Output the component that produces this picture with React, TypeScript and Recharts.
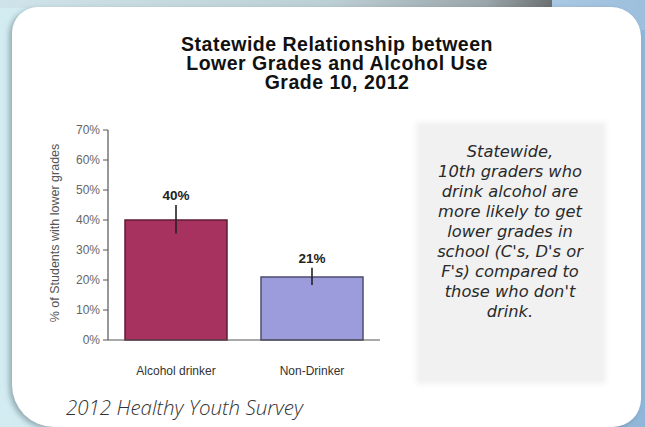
import React from 'react';
import { BarChart, Bar, XAxis, YAxis, ErrorBar, Cell, LabelList } from 'recharts';

const categories = ['Alcohol drinker', 'Non-Drinker'];
const values = [40, 21];
const errLow = [4.5, 2.7];
const errHigh = [5, 3.1];
const valueLabels = ['40%', '21%'];
const yTicks = [0, 10, 20, 30, 40, 50, 60, 70];
const titleLines = ['Statewide Relationship between', 'Lower Grades and Alcohol Use', 'Grade 10, 2012'];
const noteLines = [
  'Statewide,',
  '10th graders who',
  'drink alcohol are',
  'more likely to get',
  'lower grades in',
  "school (C's, D's or",
  "F's) compared to",
  "those who don't",
  'drink.',
];
const sourceText = '2012 Healthy Youth Survey';
const yAxisTitle = '% of Students with lower grades';

const barFills = ['#a8325f', '#9c9cdc'];
const barStrokes = ['#5e1c34', '#4c4c70'];

const data = categories.map((c, i) => ({
  name: c,
  value: values[i],
  err: [errLow[i], errHigh[i]],
}));

const SANS = '"Liberation Sans", Arial, Helvetica, sans-serif';

const renderValueLabel = (props: any) => {
  const { x, y, width, height, index } = props;
  const i = typeof index === 'number' ? index : 0;
  const ppu = Number(height) / values[i];
  const top = Number(y) - errHigh[i] * ppu;
  return (
    <text
      x={Number(x) + Number(width) / 2}
      y={top - 5}
      textAnchor="middle"
      fontFamily={SANS}
      fontWeight="bold"
      fontSize={13.5}
      fill="#222"
    >
      {valueLabels[i]}
    </text>
  );
};

const renderYTitle = (props: any) => {
  const vb = props.viewBox || { x: 0, y: 0, width: 0, height: 0 };
  const cx = vb.x + 1;
  const cy = vb.y + vb.height / 2 - 2;
  return (
    <text
      transform={`translate(${cx},${cy}) rotate(-90)`}
      textAnchor="middle"
      fontFamily={SANS}
      fontSize={12.5}
      fill="#555"
    >
      {yAxisTitle}
    </text>
  );
};

export default function App() {
  return (
    <div
      style={{
        position: 'relative',
        width: 645,
        height: 427,
        overflow: 'hidden',
        background: 'linear-gradient(90deg, #d3ecf2 0%, #c6e0e8 35%, #b0cde2 75%, #8fb6d8 100%)',
      }}
    >
      <style>{'body{margin:0;}'}</style>
      {/* top strip shadow */}
      <div
        style={{
          position: 'absolute',
          left: 0,
          top: 0,
          width: 552,
          height: 8,
          background: 'linear-gradient(90deg, #cfe4ea 0%, #bccfd5 60%, #9aa6aa 88%, #6c7072 100%)',
        }}
      />
      <div
        style={{
          position: 'absolute',
          left: 552,
          top: 0,
          width: 93,
          height: 30,
          background: 'linear-gradient(90deg, #a9c8e3 0%, #9dbfdd 100%)',
        }}
      />
      {/* card */}
      <div
        style={{
          position: 'absolute',
          left: 12,
          top: 7,
          width: 629,
          height: 420,
          background: '#ffffff',
          borderRadius: '26px 30px 28px 42px',
          boxShadow: '-3px 2px 5px rgba(40,60,70,0.35)',
        }}
      />
      {/* title */}
      <div
        style={{
          position: 'absolute',
          left: 117,
          top: 35,
          width: 440,
          textAlign: 'center',
          fontFamily: SANS,
          fontWeight: 'bold',
          fontSize: 19.5,
          letterSpacing: 0.5,
          lineHeight: '18.8px',
          color: '#111',
          whiteSpace: 'pre',
        }}
      >
        {titleLines.join('\n')}
      </div>
      {/* note box */}
      <div
        style={{
          position: 'absolute',
          left: 419,
          top: 125,
          width: 184,
          height: 256,
          background: '#f1f1f1',
          boxShadow: '0 0 6px 3px #f1f1f1',
        }}
      />
      <div
        style={{
          position: 'absolute',
          left: 410,
          top: 142,
          width: 200,
          textAlign: 'center',
          fontFamily: '"DejaVu Sans", Verdana, sans-serif',
          fontStyle: 'italic',
          fontSize: 16.3,
          lineHeight: '20px',
          color: '#2a2a2a',
          whiteSpace: 'pre',
        }}
      >
        {noteLines.join('\n')}
      </div>
      {/* chart */}
      <div style={{ position: 'absolute', left: 40, top: 110 }}>
        <BarChart
          width={360}
          height={290}
          data={data}
          margin={{ top: 20, right: 20, bottom: 20, left: 18 }}
          barCategoryGap="12.5%"
        >
          <XAxis
            dataKey="name"
            height={40}
            tickSize={0}
            tickMargin={26}
            axisLine={{ stroke: '#555', strokeWidth: 1.2 }}
            tick={{ fontFamily: SANS, fontSize: 12, fill: '#333' }}
            interval={0}
          />
          <YAxis
            width={50}
            domain={[0, 70]}
            ticks={yTicks}
            interval={0}
            tickFormatter={(v: number) => `${v}%`}
            tickSize={5}
            tickMargin={3}
            axisLine={{ stroke: '#555', strokeWidth: 1.2 }}
            tickLine={{ stroke: '#555' }}
            tick={{ fontFamily: SANS, fontSize: 12, fill: '#666' }}
            label={{ content: renderYTitle }}
          />
          <Bar dataKey="value" isAnimationActive={false} strokeWidth={1.5}>
            {data.map((d, i) => (
              <Cell key={d.name} fill={barFills[i]} stroke={barStrokes[i]} />
            ))}
            <ErrorBar dataKey="err" width={0} stroke="#222" strokeWidth={1.6} direction="y" />
            <LabelList dataKey="value" content={renderValueLabel} />
          </Bar>
        </BarChart>
      </div>
      {/* source */}
      <div
        style={{
          position: 'absolute',
          left: 66,
          top: 394,
          fontFamily: '"Open Sans", sans-serif',
          fontStyle: 'italic',
          fontWeight: 300,
          fontSize: 20.5,
          lineHeight: '26px',
          color: '#333',
          whiteSpace: 'nowrap',
        }}
      >
        {sourceText}
      </div>
    </div>
  );
}
